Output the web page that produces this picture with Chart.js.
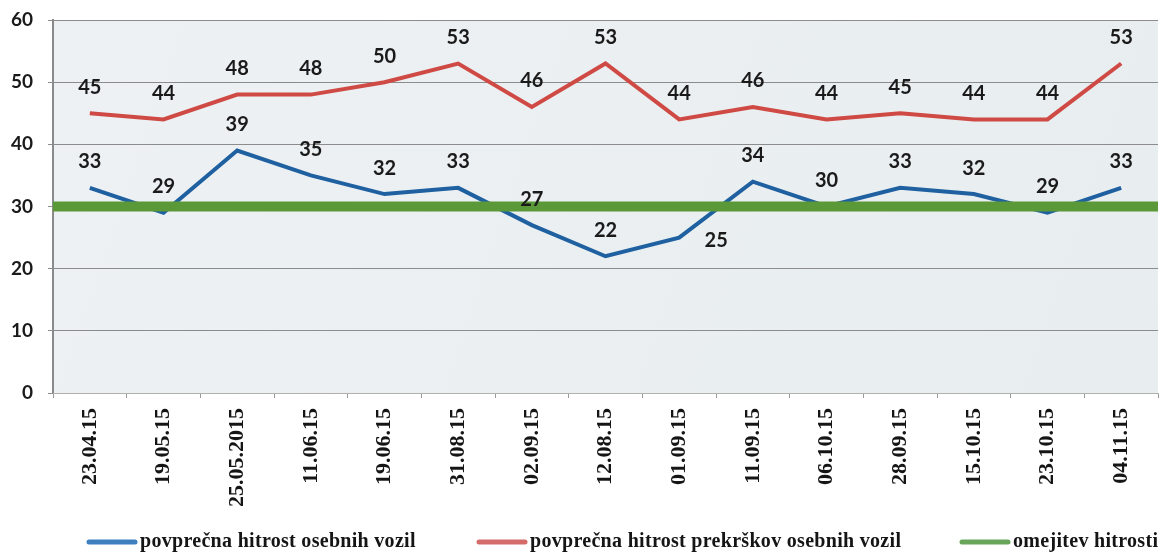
<!DOCTYPE html>
<html>
<head>
<meta charset="utf-8">
<script src="https://cdn.jsdelivr.net/npm/chart.js@4/dist/chart.umd.min.js"></script>
<style>
html,body{margin:0;padding:0;background:#fff;}
#wrap{width:1165px;height:556px;position:relative;}
</style>
</head>
<body>
<div id="wrap"><canvas id="c" width="1165" height="556"></canvas></div>
<script>
const categories = ["23.04.15","19.05.15","25.05.2015","11.06.15","19.06.15","31.08.15","02.09.15","12.08.15","01.09.15","11.09.15","06.10.15","28.09.15","15.10.15","23.10.15","04.11.15"];
const avgSpeed = [33,29,39,35,32,33,27,22,25,34,30,33,32,29,33];
const avgViolatorSpeed = [45,44,48,48,50,53,46,53,44,46,44,45,44,44,53];
const speedLimit = [30,30,30,30,30,30,30,30,30,30,30,30,30,30,30];
const seriesNames = ["povprečna hitrost osebnih vozil","povprečna hitrost prekrškov osebnih vozil","omejitev hitrosti"];
const yTicks = [0,10,20,30,40,50,60];

const legendColors = ['#3d7fbf','#d46c6a','#68a55a'];

const plotBg = {
  id:'plotBg',
  beforeDraw(chart){
    const {ctx, chartArea:a} = chart;
    ctx.save();
    const g = ctx.createLinearGradient(a.left,a.top,a.right,a.bottom);
    g.addColorStop(0,'#edf1f3');
    g.addColorStop(1,'#e8edef');
    ctx.fillStyle = g;
    ctx.fillRect(a.left,a.top,a.right-a.left,a.bottom-a.top);
    ctx.restore();
  }
};

// value labels above points; one label is placed to the right of its point (as in the original)
const valueLabels = {
  id:'valueLabels',
  afterDatasetsDraw(chart){
    const ctx = chart.ctx;
    const rightPlaced = {'0-8':true};
    ctx.save();
    ctx.font = 'bold 20px Lato, "Liberation Sans", sans-serif';
    ctx.fillStyle = '#1a1a1a';
    ctx.textAlign = 'center';
    ctx.textBaseline = 'middle';
    [0,1].forEach(di=>{
      const meta = chart.getDatasetMeta(di);
      meta.data.forEach((pt,i)=>{
        const v = chart.data.datasets[di].data[i];
        if (rightPlaced[di+'-'+i]) ctx.fillText(String(v), pt.x + 37, pt.y + 3);
        else ctx.fillText(String(v), pt.x, pt.y - 26);
      });
    });
    ctx.restore();
  }
};

const customLegend = {
  id:'customLegend',
  afterDraw(chart){
    const ctx = chart.ctx;
    const starts = [87, 477, 960];
    ctx.save();
    ctx.font = 'bold 20px "Liberation Serif", "Times New Roman", serif';
    try { ctx.letterSpacing = '0.3px'; } catch(e) {}
    ctx.textBaseline = 'middle';
    ctx.textAlign = 'left';
    const y = 542;
    chart.data.datasets.forEach((ds,i)=>{
      const x = starts[i];
      ctx.strokeStyle = legendColors[i];
      ctx.lineWidth = 5;
      ctx.lineCap = 'round';
      ctx.beginPath();
      ctx.moveTo(x+2, y); ctx.lineTo(x+48, y);
      ctx.stroke();
      ctx.fillStyle = '#151515';
      ctx.fillText(ds.label, x+53, y);
    });
    ctx.restore();
  }
};

new Chart(document.getElementById('c'), {
  type:'line',
  data:{
    labels: categories,
    datasets:[
      {label:seriesNames[0], data:avgSpeed, borderColor:'#1f60a0', backgroundColor:'#3d7fbf', borderWidth:4, pointRadius:0, tension:0, order:2},
      {label:seriesNames[1], data:avgViolatorSpeed, borderColor:'#cf4a44', backgroundColor:'#d46c6a', borderWidth:4, pointRadius:0, tension:0, order:2},
      {label:seriesNames[2], data:speedLimit, xAxisID:'x2', borderColor:'#5b9838', backgroundColor:'#68a55a', borderWidth:10, pointRadius:0, tension:0, order:1, borderCapStyle:'butt'}
    ]
  },
  options:{
    responsive:false,
    animation:false,
    layout:{padding:{top:20,right:7,left:0,bottom:0}},
    plugins:{
      legend:{display:false},
      tooltip:{enabled:false}
    },
    scales:{
      y:{
        min:0,max:60,
        afterBuildTicks(scale){ scale.ticks = yTicks.map(v=>({value:v})); },
        afterFit(scale){ scale.width = 53; scale.paddingTop = 0; scale.paddingBottom = 0; },
        grid:{color:'#8c8c8c', lineWidth:1, drawTicks:true, tickLength:5},
        border:{color:'#8a8a8a', width:2},
        ticks:{color:'#1a1a1a', padding:15, font:{family:'Lato, "Liberation Sans", sans-serif', weight:'bold', size:19}}
      },
      x:{
        offset:true,
        grid:{display:true, drawOnChartArea:false, color:'#9a9a9a', tickLength:5, offset:true},
        border:{color:'#b0b0b0'},
        afterFit(scale){ scale.height = 163; scale.paddingLeft = 0; scale.paddingRight = 0; },
        ticks:{color:'#151515', minRotation:90, maxRotation:90, padding:10, autoSkip:false,
          font:{family:'"Liberation Serif", "Times New Roman", serif', weight:'bold', size:22}}
      },
      x2:{
        type:'category',
        display:false,
        offset:false,
        labels: categories
      }
    }
  },
  plugins:[plotBg, valueLabels, customLegend]
});
</script>
</body>
</html>
